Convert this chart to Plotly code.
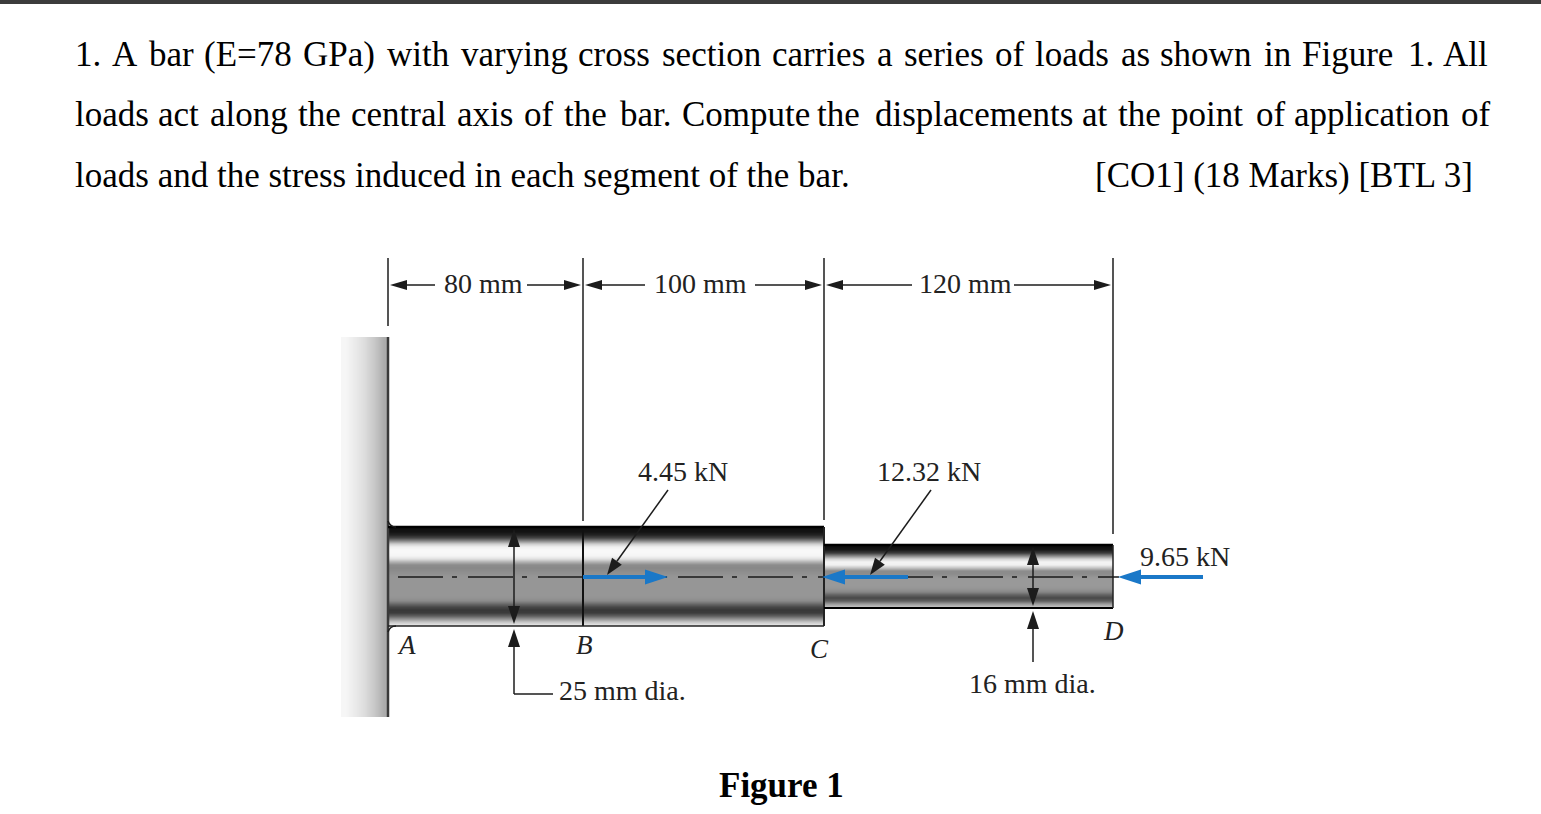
import numpy as np
import plotly.graph_objects as go

W, H = 1541, 814
SERIF = "Liberation Serif"
INK = "#1c1c1c"
BLUE = "#1a78c8"

# question text, word by word because lines 1 and 2 are justified
line1_words = ["1.", "A", "bar", "(E=78", "GPa)", "with", "varying", "cross", "section", "carries", "a",
               "series", "of", "loads", "as", "shown", "in", "Figure", "1.", "All"]
line1_x = [74, 111, 148, 203, 302, 386, 460, 577, 661, 771, 876, 903, 994, 1034, 1120, 1159, 1263, 1301, 1407, 1442]
line2_words = ["loads", "act", "along", "the", "central", "axis", "of", "the", "bar.", "Compute", "the",
               "displacements", "at", "the", "point", "of", "application", "of"]
line2_x = [74, 157, 209, 297, 350, 456, 523, 563, 619, 681, 816, 874, 1081, 1117, 1170, 1255, 1293, 1460]
line3_text = "loads and the stress induced in each segment of the bar."
marks_text = "[CO1] (18 Marks) [BTL 3]"
text_y = [54, 114, 175]

# bar geometry
segment_labels = ["80 mm", "100 mm", "120 mm"]
section_x = [388, 583, 824, 1113]
ext_bottom = [326, 521, 520, 534]
dim_y = 285
dim_top = 258
bar1_y = [527, 626]
bar2_y = [545, 608]
wall_x = [341, 388]
wall_y = [337, 717]
center_y = 577

# grey levels down the bar, evenly spaced top to bottom
bar1_grey = [15, 20, 35, 70, 135, 205, 240, 248, 248, 244, 225, 178, 140, 135, 140, 145, 150,
             150, 150, 150, 150, 150, 150, 148, 138, 105, 72, 55, 60, 95, 145, 195, 228]
bar2_grey = [15, 25, 60, 135, 210, 244, 240, 195, 140, 140, 150, 153, 153, 153, 148, 135, 98,
             72, 95, 155, 195]
wall_grey = [246, 234, 220, 200, 172]

# labels: text, x centre, y centre
load_labels = ["4.45 kN", "12.32 kN", "9.65 kN", "25 mm dia.", "16 mm dia."]
load_x = [683, 929, 1185, 622, 1032]
load_y = [471, 471, 556, 690, 683]
point_labels = ["A", "B", "C", "D"]
point_x = [406, 584, 819, 1113]
point_y = [645, 645, 649, 631]
dim_text_x = [483, 700, 965]

# (x0, y0, x1, y1) tail to tip
dim_arrows = [(435, 285, 390, 285), (527, 285, 581, 285), (645, 285, 585, 285),
              (755, 285, 822, 285), (912, 285, 826, 285), (1014, 285, 1111, 285)]
leader_arrows = [(668, 490, 607, 575), (931, 490, 870, 575)]
dia_arrows = [(514, 577, 514, 529), (514, 577, 514, 624), (514, 694, 514, 629),
              (1033, 577, 1033, 547), (1033, 577, 1033, 606), (1033, 662, 1033, 611)]
load_arrows = [(583, 577, 668, 577), (908, 577, 822, 577), (1203, 577, 1118, 577)]

fig = go.Figure()


def shade(x, y, z):
    fig.add_trace(go.Heatmap(x=x, y=y, z=z, zmin=0, zmax=255, zsmooth="best", showscale=False,
                             colorscale=[[0, "black"], [1, "white"]], hoverinfo="skip"))


shade(np.linspace(wall_x[0], wall_x[1], len(wall_grey) + 1), wall_y, [wall_grey])
shade(section_x[0:1] + section_x[2:3], np.linspace(bar1_y[0], bar1_y[1], len(bar1_grey) + 1),
      [[g] for g in bar1_grey])
shade(section_x[2:], np.linspace(bar2_y[0], bar2_y[1], len(bar2_grey) + 1),
      [[g] for g in bar2_grey])


def line(x0, y0, x1, y1, color=INK, width=1.5, dash=None):
    fig.add_shape(type="line", x0=x0, y0=y0, x1=x1, y1=y1,
                  line=dict(color=color, width=width, dash=dash))


def arrow(x0, y0, x1, y1, color=INK, width=1.5, head=16, half=4.5):
    dx, dy = x1 - x0, y1 - y0
    n = (dx ** 2 + dy ** 2) ** 0.5
    ux, uy = dx / n, dy / n
    bx, by = x1 - ux * head, y1 - uy * head
    line(x0, y0, bx, by, color, width)
    fig.add_shape(type="path", fillcolor=color, line=dict(width=0),
                  path=f"M{x1},{y1} L{bx - uy * half},{by + ux * half} L{bx + uy * half},{by - ux * half} Z")


def text(s, x, y, size, xanchor="center", color="black", bold=False, italic=False):
    if bold:
        s = f"<b>{s}</b>"
    if italic:
        s = f"<i>{s}</i>"
    fig.add_annotation(x=x, y=y, text=s, showarrow=False, xanchor=xanchor, yanchor="middle", borderpad=0,
                       font=dict(family=SERIF, size=size, color=color))


# page strip at the top
fig.add_shape(type="rect", x0=0, x1=W, y0=0, y1=4, fillcolor="#3c3c3c", line=dict(width=0))

for w, x in zip(line1_words, line1_x):
    text(w, x, text_y[0], 35, "left")
for w, x in zip(line2_words, line2_x):
    text(w, x, text_y[1], 35, "left")
text(line3_text, 74, text_y[2], 35, "left")
text(marks_text, 1094, text_y[2], 35, "left")

# wall edge, section lines and outlines
line(section_x[0], wall_y[0], section_x[0], wall_y[1], "#3a3a3a", 2.5)
for x, b in zip(section_x, ext_bottom):
    line(x, dim_top, x, b, INK, 1.5)
line(section_x[1], bar1_y[0], section_x[1], bar1_y[1], "#111111", 2)
line(section_x[0], bar1_y[0], section_x[2], bar1_y[0], "black", 2.5)
line(section_x[0], bar1_y[1], section_x[2], bar1_y[1], "#222222", 1.5)
line(section_x[2], bar1_y[0], section_x[2], bar1_y[1], "#222222", 2)
line(section_x[2], bar2_y[0], section_x[3], bar2_y[0], "black", 2.5)
line(section_x[2], bar2_y[1], section_x[3], bar2_y[1], "black", 2)
line(section_x[3], bar2_y[0], section_x[3], bar2_y[1], "#222222", 1.5)

# fillets at the wall
fig.add_shape(type="path", line=dict(color=INK, width=1.5),
              path=f"M{section_x[0]},{bar1_y[0] - 6} Q{section_x[0] + 2},{bar1_y[0]} {section_x[0] + 8},{bar1_y[0]}")
fig.add_shape(type="path", line=dict(color=INK, width=1.5),
              path=f"M{section_x[0]},{bar1_y[1] + 6} Q{section_x[0] + 2},{bar1_y[1]} {section_x[0] + 8},{bar1_y[1]}")

# centre line
line(398, center_y, section_x[3] + 6, center_y, "#1a1a1a", 1.5, dash="45px,9px,5px,11px")

for a in dim_arrows:
    arrow(*a, head=17, half=5)
for a in leader_arrows:
    arrow(*a, head=17, half=6)
for a in dia_arrows:
    arrow(*a, head=18, half=6)
for a in load_arrows:
    arrow(*a, color=BLUE, width=4, head=23, half=7.5)

# elbow of the 25 mm leader
line(dia_arrows[2][0], dia_arrows[2][1], 553, dia_arrows[2][1])

for s, x in zip(segment_labels, dim_text_x):
    text(s, x, dim_y - 2, 28, color="#222222")
for s, x, y in zip(load_labels, load_x, load_y):
    text(s, x, y, 28, color="#222222")
for s, x, y in zip(point_labels, point_x, point_y):
    text(s, x, y, 27, color="#222222", italic=True)
text("Figure 1", 781, 785, 35, bold=True)

fig.update_layout(
    width=W, height=H, margin=dict(l=0, r=0, t=0, b=0),
    paper_bgcolor="white", plot_bgcolor="white", showlegend=False,
    xaxis=dict(range=[0, W], visible=False, fixedrange=True),
    yaxis=dict(range=[H, 0], visible=False, fixedrange=True),
)
fig.write_html("out.html", config={"displayModeBar": False},
               post_script="document.body.style.margin='0';document.body.style.overflow='hidden';")
